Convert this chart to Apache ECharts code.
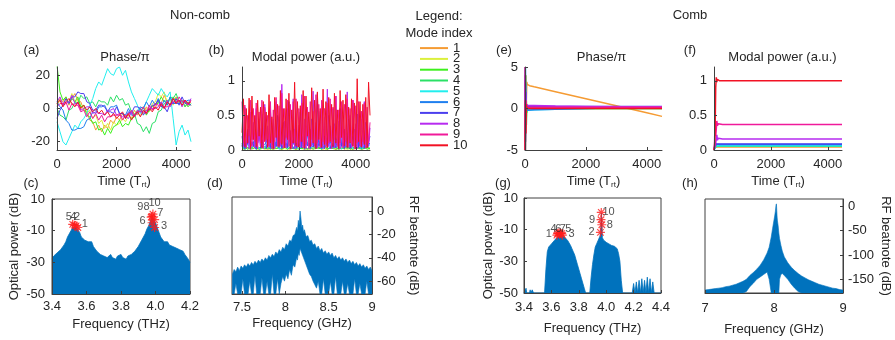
<!DOCTYPE html>
<html><head><meta charset="utf-8">
<script src="https://cdn.jsdelivr.net/npm/echarts@6/dist/echarts.min.js"></script>
<style>html,body{margin:0;padding:0;background:#fff}#c{width:895px;height:340px}</style>
</head><body><div id="c"></div>
<script>
// ---------------- DATA ----------------
const modeNames = ['1','2','3','4','5','6','7','8','9','10'];
const modeColors = ['#F59B33','#DCF03C','#3DF01E','#2BE066','#22EEEE','#1F7FEF','#4B3FEE','#B72BF0','#F01A9A','#F21224'];

// (a) non-comb phase / pi
const tPhase = [0,100,200,300,400,500,600,700,800,900,1000,1100,1200,1300,1400,1500,1600,1700,1800,1900,2000,2100,2200,2300,2400,2500,2600,2700,2800,2900,3000,3100,3200,3300,3400,3500,3600,3700,3800,3900,4000,4100,4200,4300,4400,4500];
const phase1 = [3,6,4,7,2,6,9,5,4,-1,-2,-7,-8,-13,-10,-14,-10,-12,-7,-9,-5,-7,-3,-5,-4,-6,-1,-4,0,-3,1,-1,2,0,5,3,8,4,6,3,7,3,5,1,4,2];
const phase2 = [2,5,2,6,4,9,4,5,0,2,-3,-1,-6,-4,-9,-7,-12,-9,-13,-8,-10,-9,-6,-8,-4,-6,-5,-2,-4,-3,0,-2,3,4,9,7,10,3,5,2,6,3,5,1,4,2];
const phase3 = [26,10,5,7,3,6,4,7,1,2,-4,-5,-9,-8,-13,-12,-16,-12,-15,-11,-10,-7,-11,-9,-10,-6,-5,-1,-2,1,-4,-1,1,3,3,7,4,5,2,7,4,5,2,4,1,3];
const phase4 = [0,-4,-5,-7,-1,0,4,3,8,6,7,3,4,1,5,4,4,2,7,4,8,5,6,2,3,-2,-3,-9,-10,-14,-11,-15,-9,-8,-2,-1,3,2,7,6,9,4,5,1,4,2];
const phase5 = [-8,-14,-20,-22,-18,-14,-10,-12,-8,-6,-3,2,6,12,16,14,19,24,21,20,24,25,20,23,16,10,6,2,-3,0,4,8,12,10,8,12,9,7,10,-6,-22,-14,-10,-16,-13,-20];
const phase6 = [4,1,-1,-7,-9,-13,-13,-12,-12,-11,-7,-6,-2,-3,1,1,2,-2,1,1,2,-3,-3,-4,0,-4,-4,-3,1,0,4,1,5,2,6,1,5,2,7,3,3,3,4,4,5,5];
const phase7 = [-6,-1,2,6,3,7,7,10,9,9,4,3,-1,-1,2,2,1,-2,-2,-3,1,-3,-3,-6,-2,-3,1,1,0,-4,-1,-1,2,2,5,1,1,-2,3,3,6,2,7,3,3,2];
const phase8 = [4,7,2,3,4,8,3,3,-1,0,1,1,-3,-2,-3,-3,-4,-1,-1,0,-4,-4,-5,-5,-6,-2,-5,-1,-2,-2,-3,1,0,0,1,4,0,5,1,4,4,5,1,5,2,6];
const phase9 = [1,3,3,4,-1,3,2,2,-2,-1,-5,-2,-6,-3,-7,-4,-8,-5,-5,-4,-4,-3,-7,-4,-4,-1,-5,-2,-2,1,-3,2,-1,3,2,2,1,1,2,6,3,7,4,5,2,5];
const phase10 = [3,5,1,4,6,3,1,4,0,2,-1,1,-2,0,-3,-1,-4,-2,-5,-3,-6,-4,-2,-6,-3,-7,-4,-2,-5,-1,-3,0,-2,1,-1,3,0,4,2,6,3,5,2,5,3,4];

// (b) non-comb modal power
const tPow = [0,50,100,150,200,250,300,350,400,450,500,550,600,650,700,750,800,850,900,950,1000,1050,1100,1150,1200,1250,1300,1350,1400,1450,1500,1550,1600,1650,1700,1750,1800,1850,1900,1950,2000,2050,2100,2150,2200,2250,2300,2350,2400,2450,2500,2550,2600,2650,2700,2750,2800,2850,2900,2950,3000,3050,3100,3150,3200,3250,3300,3350,3400,3450,3500,3550,3600,3650,3700,3750,3800,3850,3900,3950,4000,4050,4100,4150,4200,4250,4300,4350,4400,4450,4500];
const pow1 = [0.02,0.01,0.03,0.01,0.02,0.04,0.01,0.02,0.03,0.01,0.02,0.01,0.03,0.02,0.01,0.04,0.02,0.01,0.03,0.01,0.02,0.03,0.01,0.02,0.01,0.03,0.02,0.04,0.01,0.02,0.01,0.03,0.02,0.01,0.02,0.04,0.01,0.03,0.02,0.01,0.02,0.03,0.01,0.02,0.04,0.02];
const pow2 = [0.01,0.03,0.02,0.01,0.04,0.02,0.01,0.03,0.01,0.02,0.04,0.01,0.02,0.03,0.01,0.02,0.01,0.04,0.02,0.01,0.03,0.02,0.01,0.02,0.04,0.01,0.02,0.03,0.01,0.02,0.01,0.03,0.02,0.04,0.01,0.02,0.03,0.01,0.02,0.01,0.04,0.02,0.01,0.03,0.02,0.01];
const pow3 = [0.03,0.01,0.04,0.02,0.05,0.01,0.03,0.06,0.02,0.04,0.01,0.05,0.02,0.03,0.01,0.04,0.06,0.02,0.03,0.01,0.05,0.02,0.04,0.01,0.03,0.05,0.02,0.04,0.01,0.06,0.02,0.03,0.05,0.01,0.04,0.02,0.03,0.06,0.01,0.04,0.02,0.05,0.01,0.03,0.04,0.02];
const pow4 = [0.02,0.05,0.01,0.04,0.02,0.06,0.01,0.03,0.05,0.02,0.04,0.01,0.06,0.02,0.03,0.05,0.01,0.04,0.02,0.06,0.01,0.03,0.05,0.02,0.04,0.01,0.05,0.02,0.03,0.06,0.01,0.04,0.02,0.05,0.01,0.03,0.06,0.02,0.04,0.01,0.05,0.02,0.03,0.04,0.01,0.03];
const pow5 = [0.05,0.01,0.08,0.02,0.06,0.1,0.01,0.05,0.03,0.09,0.02,0.06,0.12,0.01,0.04,0.08,0.02,0.1,0.03,0.05,0.01,0.07,0.04,0.11,0.02,0.06,0.03,0.09,0.01,0.05,0.08,0.02,0.1,0.04,0.06,0.01,0.08,0.03,0.12,0.02,0.05,0.09,0.01,0.06,0.04,0.08];
const pow6 = [0.1,0.02,0.18,0.05,0.12,0.01,0.2,0.04,0.08,0.15,0.02,0.1,0.05,0.2,0.03,0.12,0.06,0.18,0.02,0.1,0.05,0.15,0.01,0.22,0.04,0.1,0.06,0.14,0.02,0.2,0.05,0.12,0.03,0.18,0.06,0.1,0.02,0.15,0.04,0.2,0.05,0.12,0.02,0.18,0.06,0.1];
const pow7 = [0.05,0.2,0.02,0.15,0.08,0.3,0.01,0.12,0.05,0.25,0.02,0.1,0.45,0.03,0.15,0.05,0.6,0.02,0.1,0.2,0.04,0.35,0.02,0.12,0.06,0.5,0.03,0.18,0.02,0.4,0.05,0.1,0.03,0.7,0.02,0.15,0.08,0.3,0.02,0.12,0.05,0.55,0.03,0.2,0.02,0.35,0.06,0.1,0.02,0.45,0.04,0.15,0.02,0.82,0.05,0.12,0.03,0.3,0.02,0.18,0.06,0.5,0.02,0.1,0.04,0.38,0.03,0.15,0.02,0.6,0.05,0.12,0.02,0.25,0.04,0.45,0.02,0.1,0.06,0.3,0.02,0.52,0.03,0.15,0.05,0.28,0.02,0.4,0.04,0.12,0.2];
const pow8 = [0.2,0.05,0.62,0.1,0.3,0.02,0.55,0.15,0.4,0.03,0.6,0.1,0.25,0.05,0.52,0.02,0.66,0.12,0.35,0.04,0.58,0.08,0.45,0.02,0.7,0.1,0.3,0.05,0.95,0.1,0.42,0.03,0.6,0.12,0.28,0.05,0.74,0.02,0.5,0.1,0.36,0.04,0.8,0.08,0.45,0.02,0.62,0.12,0.3,0.05,0.85,0.1,0.4,0.03,0.56,0.08,0.7,0.02,0.48,0.1,0.88,0.05,0.35,0.12,0.6,0.03,0.78,0.08,0.42,0.02,0.65,0.1,0.3,0.05,0.84,0.12,0.5,0.03,0.72,0.08,0.38,0.02,0.66,0.1,0.45,0.04,0.7,0.12,0.3,0.05,0.32];
const pow9 = [0.7,0.1,0.65,0.03,0.5,0.2,0.72,0.05,0.6,0.12,0.68,0.02,0.55,0.1,0.72,0.04,0.62,0.15,0.5,0.06,0.7,0.02,0.58,0.12,0.76,0.05,0.64,0.1,0.82,0.03,0.6,0.18,0.72,0.05,0.66,0.02,0.7,0.1,0.74,0.04,0.6,0.12,0.68,0.03,0.78,0.08,0.62,0.02,0.7,0.15,0.56,0.05,0.8,0.1,0.66,0.03,0.72,0.12,0.6,0.04,0.68,0.1,0.74,0.02,0.62,0.15,0.78,0.05,0.58,0.1,0.7,0.03,0.66,0.12,0.74,0.04,0.6,0.08,0.72,0.02,0.64,0.1,0.7,0.05,0.56,0.12,0.68,0.03,0.62,0.1,0.4];
const pow10 = [0.25,0.74,0.05,0.6,0.1,0.75,0.02,0.78,0.15,0.5,0.05,0.72,0.2,0.62,0.03,0.7,0.12,0.55,0.04,0.8,0.1,0.48,0.02,0.76,0.18,0.66,0.05,0.86,0.08,0.6,0.03,0.74,0.15,0.82,0.02,0.58,0.1,0.98,0.06,0.7,0.04,0.64,0.12,0.86,0.03,0.78,0.2,0.55,0.05,0.9,0.1,0.72,0.02,0.84,0.15,0.6,0.04,0.88,0.08,0.7,0.03,0.76,0.12,0.66,0.05,0.82,0.1,0.58,0.02,0.86,0.18,0.72,0.06,0.8,0.03,0.62,0.1,0.74,0.05,0.68,0.02,1.03,0.12,0.7,0.04,0.66,0.08,0.76,0.03,0.98,0.5];

// (e) comb phase / pi
const tCombPhase = [0,15,30,45,60,75,90,120,150,300,1000,2000,3000,4000,4500];
const cPhase1 = [5,-2,4,1,3.2,2.9,2.85,2.8,2.75,2.62,2.03,1.18,0.33,-0.52,-0.95];
const cPhase2 = [3,-4,2,-1,0.5,0.2,0.1,0.05,0.05,0.05,0.05,0.05,0.05,0.05,0.05];
const cPhase3 = [-4,4,-2,1,-0.5,0.1,0,0,0,0,0,0,0,0,0];
const cPhase4 = [2,-5,3,-2,0.3,-0.1,0,0,0,0,0,0,0,0,0];
const cPhase5 = [5,-2,1,-0.2,-0.25,-0.2,-0.2,-0.2,-0.18,-0.15,-0.08,0,0.05,0.1,0.12];
const cPhase6 = [-3,5,-1,0.5,-0.2,-0.2,-0.18,-0.18,-0.17,-0.15,-0.1,0,0.1,0.18,0.2];
const cPhase7 = [4,-4,2,0.3,0.25,0.25,0.25,0.25,0.25,0.25,0.25,0.25,0.25,0.25,0.25];
const cPhase8 = [-5,3,0.5,0.4,0.35,0.35,0.35,0.35,0.35,0.35,0.3,0.25,0.2,0.2,0.2];
const cPhase9 = [5,-5,1,0.2,0.18,0.18,0.15,0.15,0.15,0.15,0.15,0.15,0.15,0.15,0.15];
const cPhase10 = [-5,1,-3,0.5,0,0,0,0,0,0,0,0,0,0,0];

// (f) comb modal power
const tCombPow = [0,20,40,60,80,100,120,150,200,300,1000,2000,3000,4000,4500];
const cPow1 = [0,0.02,0.05,0.04,0.05,0.045,0.045,0.045,0.045,0.045,0.045,0.045,0.045,0.045,0.045];
const cPow2 = [0,0.03,0.08,0.05,0.07,0.065,0.065,0.065,0.065,0.065,0.065,0.065,0.065,0.065,0.065];
const cPow3 = [0,0.02,0.06,0.07,0.05,0.055,0.055,0.055,0.055,0.055,0.055,0.055,0.055,0.055,0.055];
const cPow4 = [0,0.01,0.04,0.06,0.05,0.055,0.055,0.055,0.055,0.055,0.055,0.055,0.055,0.055,0.055];
const cPow5 = [0,0.01,0.03,0.06,0.05,0.06,0.06,0.06,0.06,0.06,0.06,0.06,0.06,0.06,0.06];
const cPow6 = [0,0.04,0.1,0.06,0.09,0.08,0.08,0.08,0.08,0.08,0.08,0.08,0.08,0.08,0.08];
const cPow7 = [0,0.05,0.12,0.08,0.1,0.09,0.085,0.085,0.085,0.085,0.085,0.085,0.085,0.085,0.085];
const cPow8 = [0,0.02,0.05,0.1,0.12,0.22,0.14,0.17,0.16,0.16,0.16,0.16,0.16,0.16,0.16];
const cPow9 = [0,0.1,0.5,0.2,0.3,0.42,0.35,0.38,0.37,0.37,0.37,0.37,0.37,0.37,0.37];
const cPow10 = [0,0.05,0.3,0.9,1.05,0.98,1.02,1.0,1.0,1.0,1.0,1.0,1.0,1.0,1.0];

// (c) non-comb optical spectrum
const freqC = [3.40,3.41,3.42,3.43,3.44,3.45,3.46,3.47,3.48,3.49,3.50,3.51,3.52,3.53,3.54,3.55,3.56,3.57,3.58,3.59,3.60,3.61,3.62,3.63,3.64,3.65,3.66,3.67,3.68,3.69,3.70,3.71,3.72,3.73,3.74,3.75,3.76,3.77,3.78,3.79,3.80,3.81,3.82,3.83,3.84,3.85,3.86,3.87,3.88,3.89,3.90,3.91,3.92,3.93,3.94,3.95,3.96,3.97,3.98,3.99,4.00,4.01,4.02,4.03,4.04,4.05,4.06,4.07,4.08,4.09,4.10,4.11,4.12,4.13,4.14,4.15,4.16,4.17,4.18,4.19,4.20];
const specC = [-28,-26,-27,-24,-25,-22,-21,-19,-17,-14,-12,-10,-8,-7,-8,-9,-11,-14,-13,-16,-15,-17,-18,-17,-20,-21,-23,-22,-25,-24,-26,-25,-27,-26,-25,-27,-26,-28,-26,-27,-25,-27,-26,-28,-26,-27,-25,-24,-23,-22,-20,-18,-16,-14,-12,-9,-7,-4,-1,-2,-5,-8,-11,-14,-13,-17,-18,-17,-19,-18,-20,-19,-21,-20,-22,-21,-23,-25,-26,-28,-30];
const modeLabelC = ['5','4','2','1','9','8','10','7','6','3'];
const modeFreqC = [3.52,3.53,3.54,3.55,3.975,3.98,3.985,3.995,3.98,3.995];
const modePowC = [-6,-6.5,-7,-8,-1.5,-1,0.5,-3,-5,-8];

// (d) non-comb RF beatnote (upper / lower trace envelope)
const freqD = [7.39,7.41,7.43,7.45,7.47,7.49,7.51,7.53,7.55,7.57,7.59,7.61,7.63,7.65,7.67,7.69,7.71,7.73,7.75,7.77,7.79,7.81,7.83,7.85,7.87,7.89,7.91,7.93,7.95,7.97,7.99,8.01,8.03,8.05,8.07,8.09,8.11,8.13,8.14,8.15,8.16,8.17,8.18,8.19,8.2,8.21,8.22,8.24,8.26,8.28,8.3,8.32,8.34,8.36,8.38,8.4,8.42,8.44,8.46,8.48,8.5,8.52,8.54,8.56,8.58,8.6,8.62,8.64,8.66,8.68,8.7,8.72,8.74,8.76,8.78,8.8,8.82,8.84,8.86,8.88,8.9,8.92,8.94,8.96,8.98,9.0];
const rfUpD = [-54,-50,-52,-48,-51,-47,-49,-46,-48,-45,-47,-44,-46,-43,-45,-42,-44,-41,-43,-40,-42,-38,-40,-37,-39,-35,-37,-33,-35,-31,-33,-28,-30,-25,-26,-21,-20,-14,-17,-8,-12,0,-6,-14,-12,-18,-16,-22,-21,-26,-25,-29,-28,-32,-30,-34,-32,-36,-34,-37,-35,-38,-36,-40,-38,-41,-39,-42,-40,-43,-41,-44,-42,-45,-43,-46,-44,-47,-45,-48,-46,-49,-47,-50,-48,-51];
const rfLoD = [-71,-71,-62,-71,-71,-71,-58,-71,-71,-71,-60,-71,-71,-55,-71,-71,-71,-57,-71,-71,-60,-71,-71,-54,-71,-71,-58,-71,-62,-56,-60,-54,-58,-50,-55,-46,-48,-40,-42,-36,-38,-32,-34,-36,-38,-40,-42,-46,-50,-54,-56,-60,-63,-66,-60,-71,-71,-58,-71,-71,-71,-60,-71,-71,-56,-71,-71,-71,-60,-71,-71,-62,-71,-71,-71,-58,-71,-71,-62,-71,-71,-71,-60,-71,-71,-71];

// (g) comb optical spectrum
const freqG = [3.40,3.41,3.415,3.42,3.44,3.445,3.45,3.46,3.47,3.48,3.55,3.56,3.57,3.58,3.59,3.60,3.61,3.62,3.63,3.64,3.65,3.66,3.67,3.68,3.69,3.70,3.71,3.72,3.73,3.74,3.75,3.76,3.77,3.78,3.79,3.80,3.81,3.82,3.83,3.84,3.85,3.88,3.89,3.90,3.91,3.92,3.93,3.94,3.95,3.955,3.96,3.963,3.966,3.969,3.972,3.98,3.99,4.00,4.01,4.02,4.03,4.04,4.05,4.06,4.07,4.08,4.09,4.10,4.11,4.12,4.19,4.20,4.21,4.22,4.23,4.24,4.25,4.26,4.27,4.28,4.29,4.30,4.31,4.32,4.33,4.34,4.35,4.40];
const specG = [-50,-50,-47,-50,-50,-48,-50,-48,-50,-50,-50,-35,-24,-21,-20,-19,-18,-17,-16,-15,-14.5,-14,-14,-14,-14.5,-15,-15.5,-17,-18,-20,-22,-24,-26,-29,-32,-35,-38,-41,-44,-47,-50,-50,-40,-32,-26,-21,-19,-17,-16,-14,-12,-4,0.5,-7,-15,-16.5,-17,-18,-18.5,-19,-19,-20,-20,-20.5,-21,-22,-25,-30,-42,-50,-50,-44,-50,-43,-50,-42,-50,-41,-50,-42,-50,-40,-50,-41,-50,-43,-50,-50];
const modeLabelG = ['1','4','6','7','5','3','10','9','8','2'];
const modeFreqG = [3.64,3.645,3.655,3.665,3.675,3.68,3.964,3.962,3.968,3.958];
const modePowG = [-13.5,-12.5,-12,-12,-12.5,-13.5,0.9,-3.7,-6.9,-11.7];

// (h) comb RF beatnote (upper / lower trace envelope)
const freqH = [7.0,7.05,7.1,7.15,7.2,7.25,7.3,7.35,7.4,7.45,7.5,7.55,7.6,7.65,7.7,7.75,7.8,7.85,7.9,7.93,7.96,7.98,8.0,8.01,8.02,8.03,8.035,8.04,8.045,8.05,8.06,8.07,8.08,8.1,8.12,8.15,8.2,8.25,8.3,8.35,8.4,8.45,8.5,8.55,8.6,8.65,8.7,8.75,8.8,8.85,8.9,8.95,9.0];
const rfUpH = [-172,-171,-170,-169,-168,-167,-165,-164,-162,-160,-157,-154,-150,-142,-136,-129,-121,-110,-96,-84,-63,-45,-28,-20,-10,3,5,-8,-22,-30,-40,-55,-66,-80,-92,-104,-116,-125,-132,-138,-143,-147,-151,-154,-157,-160,-162,-164,-166,-168,-169,-171,-172];
const rfLoH = [-178,-178,-178,-178,-178,-178,-178,-178,-178,-178,-178,-178,-175,-165,-158,-150,-145,-140,-135,-150,-178,-178,-178,-178,-178,-178,-178,-178,-178,-178,-178,-178,-150,-140,-138,-142,-150,-160,-168,-175,-178,-178,-178,-178,-178,-178,-178,-178,-178,-178,-178,-178,-178];

// tick values
const tickTime = [0,2000,4000];
const tickPhaseA = [-20,0,20];
const tickPow = [0,0.5,1];
const tickPhaseE = [-5,0,5];
const tickOptY = [-50,-30,-10,10];
const tickFreqC = [3.4,3.6,3.8,4.0,4.2];
const tickFreqG = [3.4,3.6,3.8,4.0,4.2,4.4];
const tickRfD_y = [-60,-40,-20,0];
const tickRfD_x = [7.5,8,8.5,9];
const tickRfH_y = [-150,-100,-50,0];
const tickRfH_x = [7,8,9];

// ---------------- CHART ----------------
const FONT = '"Liberation Sans", Arial, Helvetica, sans-serif';
const AX = '#404040', TXT = '#262626', BLUE = '#0072BD';
const zip = (xs, ys) => xs.map((x, i) => [x, ys[i]]);
const plain = v => String(v);
const f1 = v => v.toFixed(1);

function axisCommon(ticks, fmt, margin) {
  return {
    type: 'value', z: 5,
    axisLine: {show: true, onZero: false, lineStyle: {color: AX, width: 1}},
    axisTick: {show: true, inside: true, length: 3, customValues: ticks, lineStyle: {color: AX}},
    axisLabel: {customValues: ticks, margin: margin, fontSize: 13, color: TXT, fontFamily: FONT, formatter: fmt || plain},
    splitLine: {show: false}
  };
}
const nameStyle = {fontSize: 13, color: TXT, fontFamily: FONT};
const timeName = '{n|Time (T}{s|rt}{n|)}';
const timeNameStyle = {fontSize: 13, color: TXT, fontFamily: FONT,
  rich: {n: {fontSize: 13, color: TXT, fontFamily: FONT}, s: {fontSize: 8, color: TXT, fontFamily: FONT, padding: [7, 0, 0, 0]}}};

const grids = [
  {left: 57, top: 67, width: 134, height: 83},
  {left: 242, top: 67, width: 128, height: 83},
  {left: 525, top: 67, width: 137, height: 83},
  {left: 714, top: 67, width: 128, height: 83},
  {left: 52, top: 199, width: 138, height: 95, show: true, borderColor: AX, borderWidth: 1},
  {left: 232, top: 197, width: 140, height: 97, show: true, borderColor: AX, borderWidth: 1},
  {left: 524, top: 198, width: 137, height: 95, show: true, borderColor: AX, borderWidth: 1},
  {left: 705, top: 199, width: 138, height: 94, show: true, borderColor: AX, borderWidth: 1}
];

const timeX = (g) => Object.assign(axisCommon(tickTime, null, 8), {gridIndex: g, min: 0, max: 4500,
  name: timeName, nameLocation: 'middle', nameGap: 24, nameTextStyle: timeNameStyle});

const xAxes = [
  timeX(0), timeX(1), timeX(2), timeX(3),
  Object.assign(axisCommon(tickFreqC, f1, 6), {gridIndex: 4, min: 3.4, max: 4.2, name: 'Frequency (THz)', nameLocation: 'middle', nameGap: 24, nameTextStyle: nameStyle}),
  Object.assign(axisCommon(tickRfD_x, null, 7), {gridIndex: 5, min: 7.385, max: 9, name: 'Frequency (GHz)', nameLocation: 'middle', nameGap: 23, nameTextStyle: nameStyle}),
  Object.assign(axisCommon(tickFreqG, f1, 8), {gridIndex: 6, min: 3.4, max: 4.4, name: 'Frequency (THz)', nameLocation: 'middle', nameGap: 29, nameTextStyle: nameStyle}),
  Object.assign(axisCommon(tickRfH_x, null, 9), {gridIndex: 7, min: 7, max: 9, name: 'Frequency (GHz)', nameLocation: 'middle', nameGap: 30, nameTextStyle: nameStyle})
];
const yAxes = [
  Object.assign(axisCommon(tickPhaseA, null, 7), {gridIndex: 0, min: -25, max: 25}),
  Object.assign(axisCommon(tickPow, null, 7), {gridIndex: 1, min: 0, max: 1.2}),
  Object.assign(axisCommon(tickPhaseE, null, 7), {gridIndex: 2, min: -5, max: 5}),
  Object.assign(axisCommon(tickPow, null, 7), {gridIndex: 3, min: 0, max: 1.2}),
  Object.assign(axisCommon(tickOptY, null, 7), {gridIndex: 4, min: -50, max: 10, name: 'Optical power (dB)', nameLocation: 'middle', nameGap: 31, nameTextStyle: nameStyle}),
  Object.assign(axisCommon(tickRfD_y, null, 5), {gridIndex: 5, position: 'right', min: -71, max: 12, name: 'RF beatnote (dB)', nameLocation: 'middle', nameGap: 35, nameRotate: -90, nameTextStyle: nameStyle}),
  Object.assign(axisCommon(tickOptY, null, 6), {gridIndex: 6, min: -50, max: 10, name: 'Optical power (dB)', nameLocation: 'middle', nameGap: 26, nameTextStyle: nameStyle}),
  Object.assign(axisCommon(tickRfH_y, null, 5), {gridIndex: 7, position: 'right', min: -178, max: 15, name: 'RF beatnote (dB)', nameLocation: 'middle', nameGap: 36, nameRotate: -90, nameTextStyle: nameStyle})
];

function lineS(i, ax, xs, ys, w) {
  return {type: 'line', name: modeNames[i], xAxisIndex: ax, yAxisIndex: ax, data: zip(xs, ys),
    symbol: 'none', showSymbol: false, silent: true, animation: false,
    lineStyle: {color: modeColors[i], width: w}, itemStyle: {color: modeColors[i]}};
}
const series = [];
const phA = [phase1,phase2,phase3,phase4,phase5,phase6,phase7,phase8,phase9,phase10];
phA.forEach((d, i) => series.push(lineS(i, 0, tPhase, d, 1)));
const pwB = [pow1,pow2,pow3,pow4,pow5,pow6,pow7,pow8,pow9,pow10];
pwB.forEach((d, i) => series.push(lineS(i, 1, i < 6 ? tPhase : tPow, d, 1)));
const phE = [cPhase1,cPhase2,cPhase3,cPhase4,cPhase5,cPhase6,cPhase7,cPhase8,cPhase9,cPhase10];
phE.forEach((d, i) => series.push(lineS(i, 2, tCombPhase, d, 1.5)));
const pwF = [cPow1,cPow2,cPow3,cPow4,cPow5,cPow6,cPow7,cPow8,cPow9,cPow10];
pwF.forEach((d, i) => series.push(lineS(i, 3, tCombPow, d, 1.5)));

function spectrum(ax, xs, ys) {
  return {type: 'line', xAxisIndex: ax, yAxisIndex: ax, data: zip(xs, ys), symbol: 'none', silent: true, animation: false,
    lineStyle: {color: BLUE, width: 0.8}, areaStyle: {color: BLUE, opacity: 1, origin: 'start'}};
}
series.push(spectrum(4, freqC, specC));
series.push(spectrum(6, freqG, specG));

// filled band between lower and upper envelope of a dense noisy trace
function band(ax, xs, lo, up) {
  return {type: 'custom', xAxisIndex: ax, yAxisIndex: ax, silent: true, animation: false, clip: true, z: 2,
    data: [[xs[0], up[0]]],
    renderItem: (params, api) => {
      const pts = [];
      for (let i = 0; i < xs.length; i++) pts.push(api.coord([xs[i], up[i]]));
      for (let i = xs.length - 1; i >= 0; i--) pts.push(api.coord([xs[i], lo[i]]));
      return {type: 'polygon', shape: {points: pts}, style: {fill: BLUE, stroke: BLUE, lineWidth: 0.6}};
    }};
}
series.push(band(5, freqD, rfLoD, rfUpD));
series.push(band(7, freqH, rfLoH, rfUpH));

// asterisk markers with mode-index labels
const STAR = 'path://M0,-5L0,5M-5,0L5,0M-3.6,-3.6L3.6,3.6M-3.6,3.6L3.6,-3.6';
const offC = {'5': [-4, -7], '4': [-1, -8], '2': [1, -8.5], '1': [7, -3.5], '9': [-10.8, -9.8], '8': [-5.6, -9], '10': [1.7, -11], '7': [5.6, -6.6], '6': [-9.6, -1.4], '3': [9.3, -1.8]};
const offG = {'1': [-8, -1], '4': [-4, -4.6], '6': [-0.6, -3.8], '7': [2.6, -3.8], '5': [6.6, -4.6], '3': [9.2, -1.2], '10': [7.3, -0.4], '9': [-9, 0], '8': [8, 0], '2': [-9, 0]};
function stars(ax, fs, ps, labels, offs) {
  return {type: 'scatter', xAxisIndex: ax, yAxisIndex: ax, symbol: STAR, symbolSize: 9, silent: true, animation: false, z: 4,
    itemStyle: {color: 'rgba(0,0,0,0)', borderColor: '#FF1A1A', borderWidth: 1.2},
    data: fs.map((f, i) => ({value: [f, ps[i]], name: labels[i],
      label: {show: true, position: 'inside', offset: offs[labels[i]], formatter: labels[i], fontSize: 11, color: TXT, fontFamily: FONT}}))};
}
series.push(stars(4, modeFreqC, modePowC, modeLabelC, offC));
series.push(stars(6, modeFreqG, modePowG, modeLabelG, offG));

const texts = [
  ['Non-comb', 200, 15], ['Comb', 690, 15], ['Legend:', 439, 16], ['Mode index', 439, 33],
  ['(a)', 31.5, 50], ['(b)', 216.5, 50], ['(e)', 504, 50], ['(f)', 690, 50],
  ['(c)', 31, 183], ['(d)', 215, 183], ['(g)', 503, 183], ['(h)', 690, 183],
  ['Phase/π', 125, 57], ['Modal power (a.u.)', 306, 57], ['Phase/π', 601.5, 57], ['Modal power (a.u.)', 782.5, 57]
];
const graphic = texts.map(t => ({type: 'text', silent: true, z: 10,
  style: {text: t[0], x: t[1], y: t[2], font: '13px ' + FONT, fill: TXT, align: 'center', verticalAlign: 'middle'}}));

const chart = echarts.init(document.getElementById('c'), null, {renderer: 'canvas'});
chart.setOption({
  animation: false,
  backgroundColor: '#fff',
  color: modeColors,
  grid: grids,
  xAxis: xAxes,
  yAxis: yAxes,
  legend: {data: modeNames, orient: 'vertical', left: 420, top: 41.6, padding: 0, itemWidth: 28, itemHeight: 2, itemGap: -2.2,
    icon: 'rect', selectedMode: false, textStyle: {fontSize: 13, color: TXT, fontFamily: FONT, lineHeight: 10.8}},
  graphic: graphic,
  series: series
});
</script></body></html>
